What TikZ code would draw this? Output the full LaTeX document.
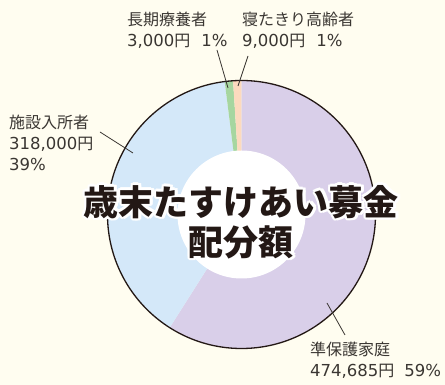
\documentclass[tikz,border=0pt]{standalone}
\usepackage{fontspec}
\setmainfont{Noto Sans CJK JP}
\newfontfamily\numfont{DejaVu Sans}
\usepackage{tikz}
\usetikzlibrary{calc}
\definecolor{bgcream}{RGB}{255,253,240}
\definecolor{slicepurple}{RGB}{217,207,233}
\definecolor{sliceblue}{RGB}{212,232,249}
\definecolor{slicegreen}{RGB}{166,214,160}
\definecolor{sliceorange}{RGB}{252,218,190}
\definecolor{labelgray}{RGB}{58,54,50}
\definecolor{titleblack}{RGB}{35,24,21}
\newcommand\amt[1]{{\numfont\fontsize{16.5}{21}\selectfont #1}}
\tikzset{
        lbl/.style={anchor=north west, inner sep=0pt, align=left, text=labelgray, font=\fontsize{16}{21}\selectfont},
        leader/.style={draw=labelgray, line width=0.8pt},
        ttl/.style={inner sep=0pt, align=center, text=titleblack, font=\bfseries\fontsize{35}{40}\selectfont}
}

\begin{document}
\begin{tikzpicture}[x=1pt,y=1pt]
                    \fill[bgcream] (-241.5,-170.5) rectangle (203.5,214.5);
                    \useasboundingbox (-241.5,-170.5) rectangle (203.5,214.5);
                    \fill[slicepurple] (0,0) -- (90:134pt) arc[start angle=90, end angle=-122.4, radius=134pt] -- cycle;
                    \fill[sliceblue] (0,0) -- (-122.4:134pt) arc[start angle=-122.4, end angle=-262.8, radius=134pt] -- cycle;
                    \fill[slicegreen] (0,0) -- (97.2:134pt) arc[start angle=97.2, end angle=93.6, radius=134pt] -- cycle;
                    \fill[sliceorange] (0,0) -- (93.6:134pt) arc[start angle=93.6, end angle=90, radius=134pt] -- cycle;
                    \fill[white] (0,0) circle (64pt);
                    \draw[titleblack, line width=1.3pt] (0,0) circle (134pt);
                    \node[lbl] (chouki) at (-114.5,202.5) {長期療養者\\\amt{3,000}円\hspace{11pt}\amt{1\%}};
                    \node[lbl] (netakiri) at (0.5,202.5) {寝たきり高齢者\\\amt{9,000}円\hspace{11pt}\amt{1\%}};
                    \node[lbl] (shisetsu) at (-232.5,99.5) {施設入所者\\\amt{318,000}円\\\amt{39\%}};
                    \node[lbl] (junhogo) at (68.5,-127.5) {準保護家庭\\\amt{474,685}円\hspace{10pt}\amt{59\%}};
                    \coordinate (chouki-a) at (-24.5,164.5);
                    \coordinate (chouki-b) at (-13.5,126.5);
                    \coordinate (netakiri-a) at (6.5,158.5);
                    \coordinate (netakiri-b) at (-3.5,128.5);
                    \coordinate (shisetsu-a) at (-141.5,82.5);
                    \coordinate (shisetsu-b) at (-108.5,61.5);
                    \coordinate (junhogo-a) at (103.5,-120.5);
                    \coordinate (junhogo-b) at (85.5,-88.5);
                    \draw[leader] (chouki-a) -- (chouki-b);
                    \draw[leader] (netakiri-a) -- (netakiri-b);
                    \draw[leader] (shisetsu-a) -- (shisetsu-b);
                    \draw[leader] (junhogo-a) -- (junhogo-b);
                    \foreach \a in {0,30,...,330}
                        \node[ttl, text=white] (halo\a) at ($(0,-7.5)+(\a:2.5pt)$) {歳末たすけあい募金\\配分額};
                    \node[ttl] (title) at (0,-7.5) {歳末たすけあい募金\\配分額};
                \end{tikzpicture}
\end{document}
